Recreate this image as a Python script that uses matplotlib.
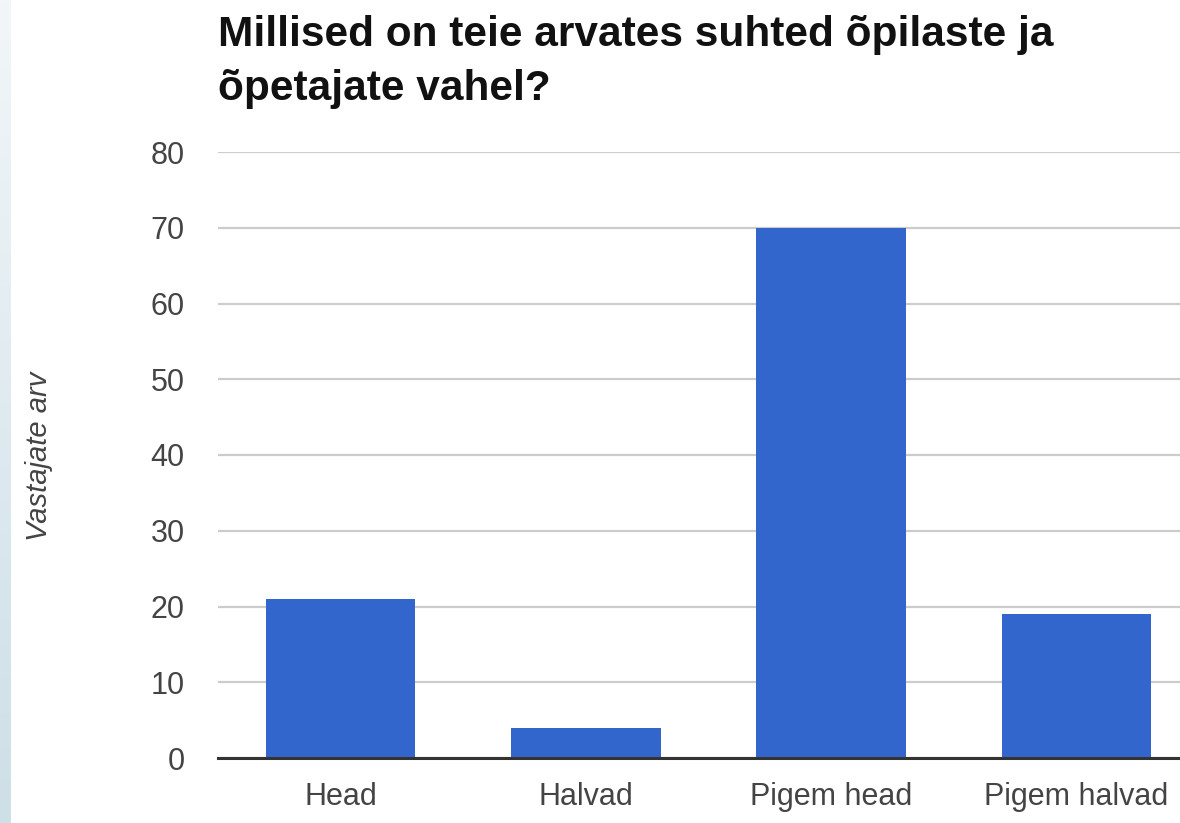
import numpy as np
import matplotlib
matplotlib.use("Agg")
import matplotlib.pyplot as plt
from matplotlib.colors import LinearSegmentedColormap

categories = ["Head", "Halvad", "Pigem head", "Pigem halvad"]
values = [21, 4, 70, 19]
yticks = [0, 10, 20, 30, 40, 50, 60, 70, 80]
title = "Millised on teie arvates suhted õpilaste ja\nõpetajate vahel?"
ylabel = "Vastajate arv"

plt.rcParams['font.family'] = ['Liberation Sans', 'DejaVu Sans']

W, H = 1180, 823
fig = plt.figure(figsize=(W / 100, H / 100), dpi=100)
fig.patch.set_facecolor("white")

# slide background strip on the left
strip = fig.add_axes([0, 0, 11 / W, 1])
cmap = LinearSegmentedColormap.from_list("s", ["#f2f6f8", "#cddfe7"])
strip.imshow(np.linspace(0, 1, 256).reshape(-1, 1), aspect="auto", cmap=cmap,
             extent=[0, 1, 1, 0])
strip.axis("off")

left, right = 218 / W, 1.0
bottom, top = (H - 758) / H, (H - 152) / H
ax = fig.add_axes([left, bottom, right - left, top - bottom])

x = np.arange(len(categories))
ax.bar(x, values, width=0.61, color="#3366cc", zorder=3)

ax.set_ylim(0, 80)
ax.set_xlim(-0.5, -0.5 + (W - 218) / 245.3)
ax.set_yticks(yticks)
ax.set_xticks(x)
ax.set_xticklabels(categories)
ax.yaxis.grid(True, color="#cccccc", linewidth=1.6, zorder=0)
ax.set_axisbelow(True)
for s in ["top", "right", "left"]:
    ax.spines[s].set_visible(False)
ax.spines["bottom"].set_color("#333333")
ax.spines["bottom"].set_linewidth(2.2)
ax.spines["bottom"].set_zorder(4)
ax.tick_params(axis="both", length=0, labelsize=22, labelcolor="#444444")
ax.tick_params(axis="y", pad=24)
ax.tick_params(axis="x", pad=17)

fig.text(39 / W, 1 - 456 / H, ylabel, rotation=90, fontsize=21, style="italic",
         color="#444444", ha="center", va="center")

fig.text(218 / W, 1 - 15 / H, title, fontsize=30.5, fontweight="bold",
         color="#111111", ha="left", va="top", linespacing=1.45)

fig.savefig("out.png", dpi=100)
